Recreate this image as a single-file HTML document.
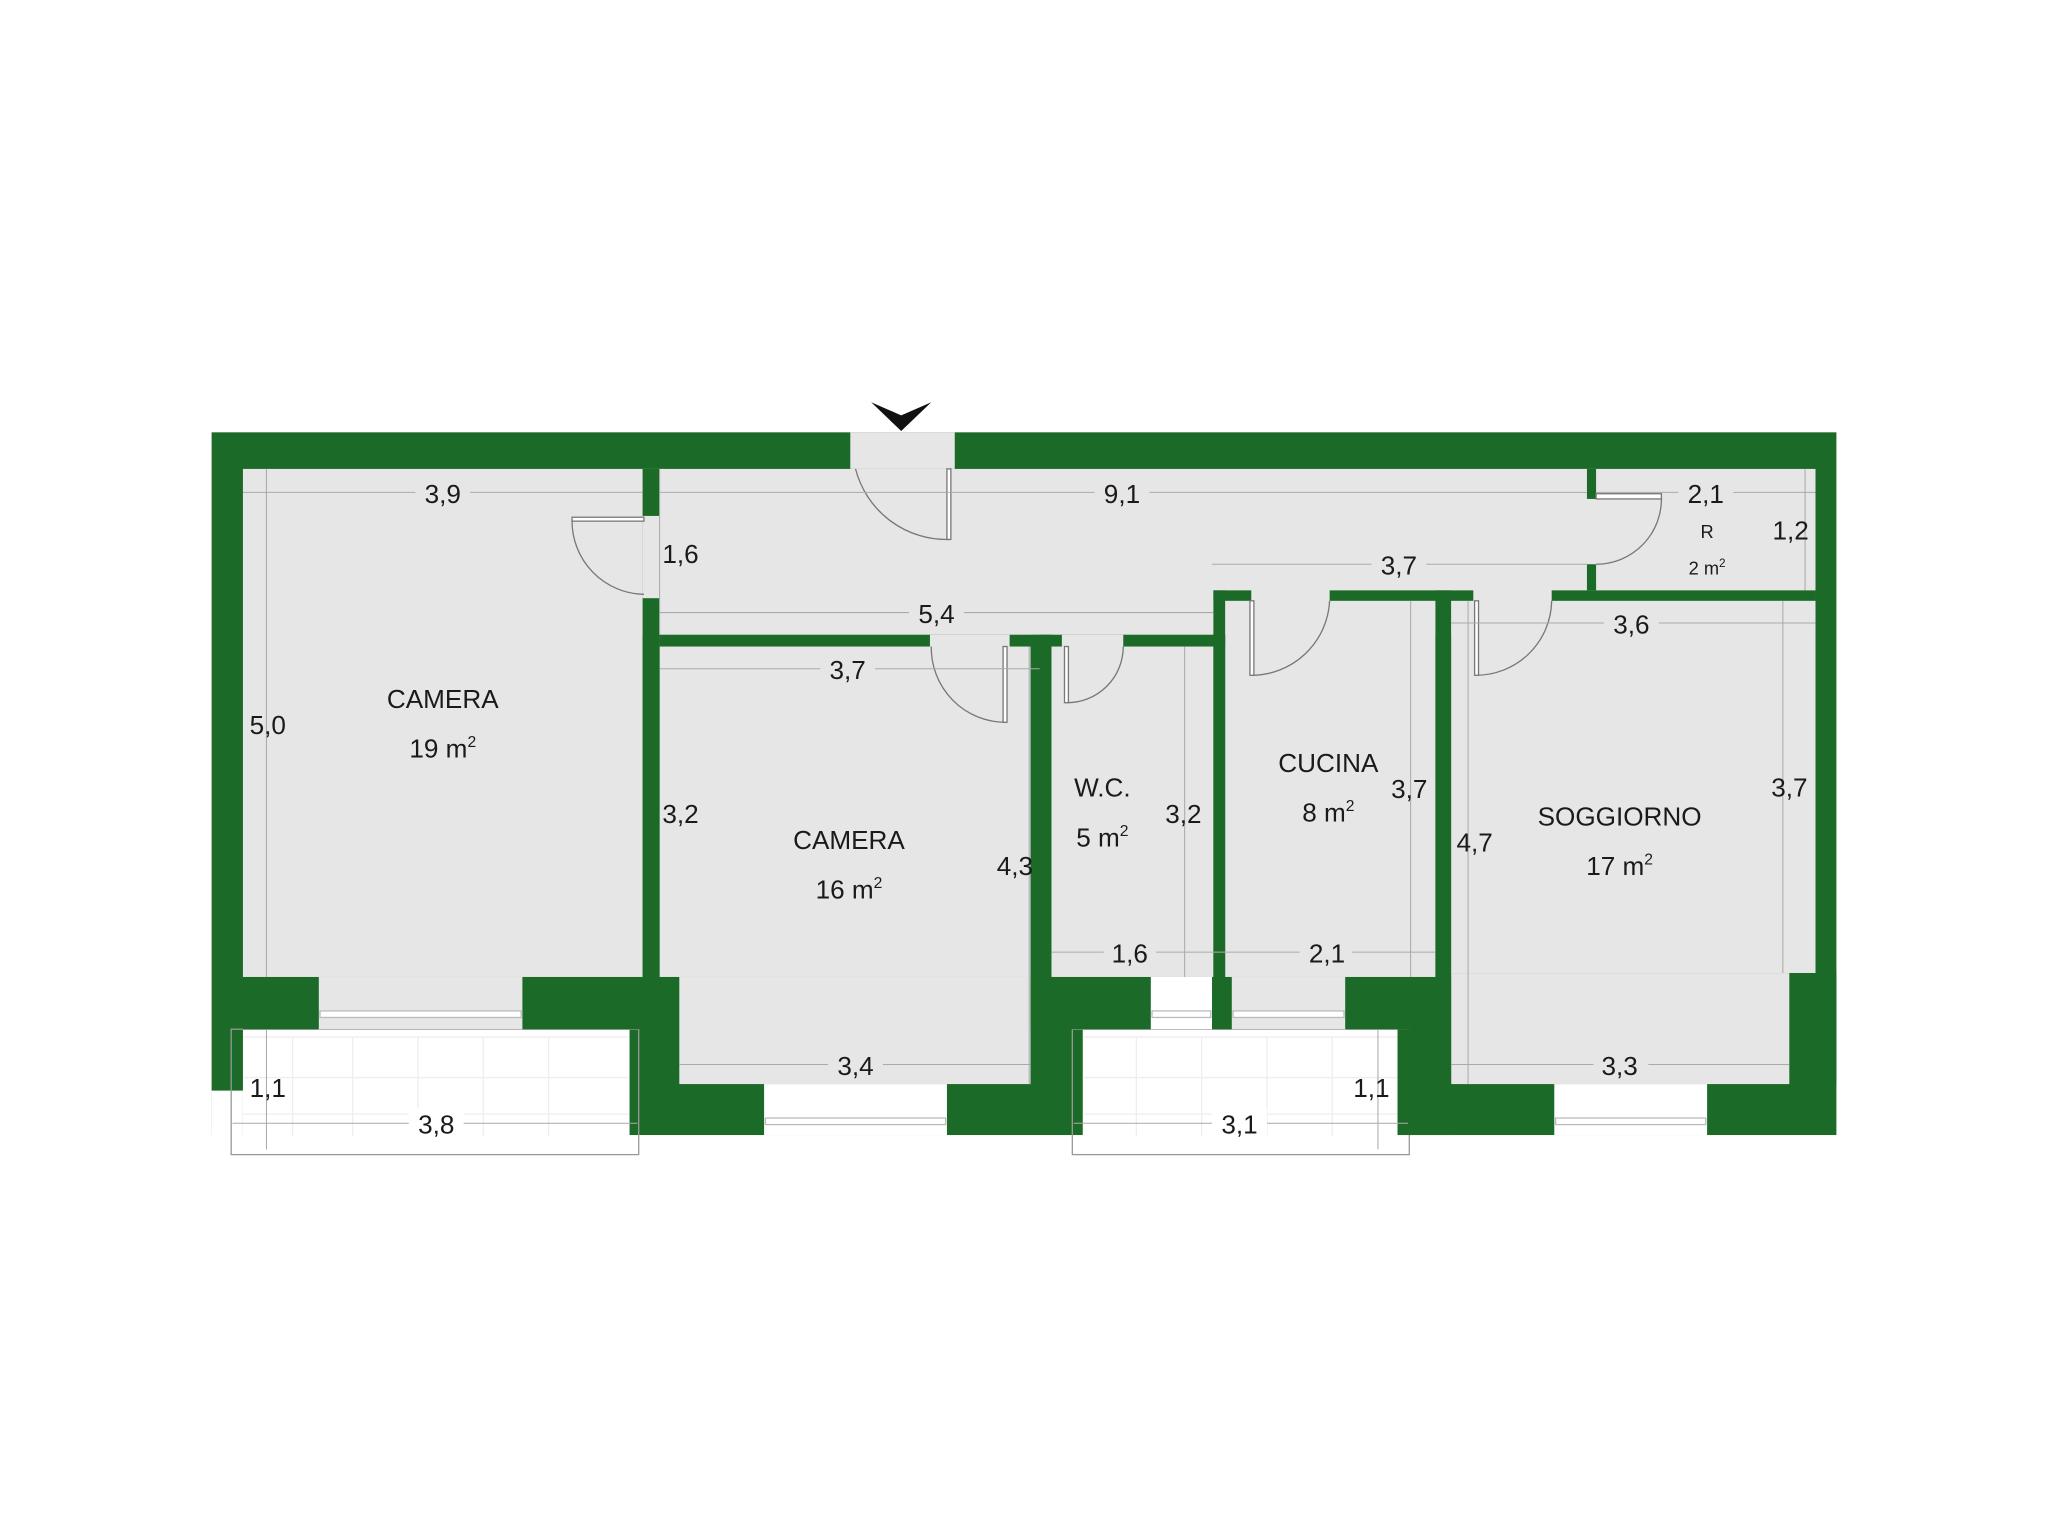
<!DOCTYPE html>
<html><head><meta charset="utf-8"><style>html,body{margin:0;padding:0;background:#fff}svg{display:block}</style></head><body>
<svg width="2048" height="1536" viewBox="0 0 1568 1176" xmlns="http://www.w3.org/2000/svg" font-family="Liberation Sans, sans-serif">
<rect width="1568" height="1176" fill="#fff"/>
<!-- green base -->
<rect x="162" y="331" width="1244" height="538" fill="#1c6a28"/>
<rect x="162" y="835" width="24" height="40" fill="#fff"/>
<!-- balconies -->
<rect x="186" y="788" width="296" height="82" fill="#fff"/>
<rect x="829" y="788" width="241" height="82" fill="#fff"/>
<g stroke="#eee" stroke-width="1">
<line x1="186" y1="794" x2="482" y2="794"/><line x1="186" y1="825" x2="482" y2="825"/><line x1="186" y1="853" x2="482" y2="853"/>
<line x1="829" y1="794" x2="1070" y2="794"/><line x1="829" y1="825" x2="1070" y2="825"/><line x1="829" y1="853" x2="1070" y2="853"/>
<line x1="224" y1="794" x2="224" y2="870"/><line x1="270" y1="794" x2="270" y2="870"/><line x1="320" y1="794" x2="320" y2="870"/><line x1="370" y1="794" x2="370" y2="870"/><line x1="420" y1="794" x2="420" y2="870"/>
<line x1="870" y1="794" x2="870" y2="870"/><line x1="920" y1="794" x2="920" y2="870"/><line x1="970" y1="794" x2="970" y2="870"/><line x1="1020" y1="794" x2="1020" y2="870"/>
</g>
<rect x="177" y="788" width="312" height="96" fill="none" stroke="#999" stroke-width="1"/>
<rect x="821" y="788" width="258" height="96" fill="none" stroke="#999" stroke-width="1"/>
<!-- floors -->
<g fill="#e6e6e6">
<rect x="186" y="359" width="306" height="389"/>
<rect x="244" y="748" width="156" height="40"/>
<rect x="492" y="359" width="898" height="127"/>
<rect x="505" y="486" width="284" height="262"/>
<rect x="520" y="748" width="269" height="82"/>
<rect x="805" y="486" width="124" height="262"/>
<rect x="938" y="452" width="161" height="296"/>
<rect x="943" y="748" width="87" height="40"/>
<rect x="1111" y="452" width="279" height="293"/>
<rect x="1111" y="745" width="259" height="85"/>
<rect x="651" y="331" width="80" height="28"/>
</g>
<!-- windows -->
<g fill="#fff" stroke="#bbb" stroke-width="1">
<rect x="585" y="830" width="140" height="39" stroke="none"/>
<rect x="1190" y="830" width="117" height="39" stroke="none"/>
<rect x="881" y="748" width="47" height="40" stroke="none"/>
<rect x="586" y="856" width="138" height="5"/>
<rect x="1191" y="856" width="115" height="5"/>
<rect x="245" y="774" width="154" height="5"/>
<rect x="944" y="774" width="85" height="5"/>
<rect x="882" y="774" width="45" height="5"/>
</g>
<!-- interior walls -->
<g fill="#1c6a28">
<rect x="492" y="359" width="13" height="36"/>
<rect x="492" y="458" width="13" height="290"/>
<rect x="505" y="486" width="207" height="9"/>
<rect x="773" y="486" width="40" height="9"/>
<rect x="860" y="486" width="78" height="9"/>
<rect x="796" y="486" width="9" height="262"/>
<rect x="789" y="748" width="92" height="40"/>
<rect x="928" y="748" width="15" height="40"/>
<rect x="929" y="452" width="9" height="296"/>
<rect x="929" y="452" width="29" height="8"/>
<rect x="1018" y="452" width="110" height="8"/>
<rect x="1099" y="452" width="12" height="378"/>
<rect x="1188" y="452" width="202" height="8"/>
<rect x="1215" y="359" width="7" height="23"/>
<rect x="1215" y="432" width="7" height="20"/>
<rect x="1030" y="748" width="81" height="40"/>
<rect x="1070" y="788" width="41" height="81"/>
<rect x="1370" y="745" width="36" height="85"/>
<rect x="505" y="748" width="15" height="82"/>
<rect x="400" y="748" width="105" height="40"/>
<rect x="186" y="748" width="58" height="40"/>
</g>
<!-- doors -->
<g fill="none" stroke="#777" stroke-width="1">
<path d="M438,398 A56,56 0 0 0 493,455"/><rect x="438" y="396" width="55" height="3" fill="#fff"/>
<path d="M655,359 A72,72 0 0 0 727,413"/><rect x="725" y="359" width="3" height="54" fill="#fff"/>
<path d="M713,495 A57,57 0 0 0 770,553"/><rect x="768" y="495" width="3" height="58" fill="#fff"/>
<path d="M860,495 A43,43 0 0 1 817,538"/><rect x="815" y="495" width="3" height="43" fill="#fff"/>
<path d="M1018,460 A60,60 0 0 1 958,517"/><rect x="957" y="460" width="3" height="57" fill="#fff"/>
<path d="M1188,460 A58,58 0 0 1 1130,517"/><rect x="1129" y="460" width="3" height="57" fill="#fff"/>
<path d="M1272,380 A50,50 0 0 1 1222,432"/><rect x="1222" y="378" width="50" height="4" fill="#fff"/>
</g>
<!-- entry arrow -->
<path d="M667,308 L690,330 L713,308 L690,318 Z" fill="#111"/>
<!-- dimension lines -->
<g stroke="#aaa" stroke-width="0.8" fill="none">
<line x1="186" y1="377" x2="492" y2="377"/>
<line x1="505" y1="377" x2="1215" y2="377"/>
<line x1="1222" y1="377" x2="1390" y2="377"/>
<line x1="204" y1="359" x2="204" y2="748"/>
<line x1="505" y1="359" x2="505" y2="486"/>
<line x1="505" y1="469" x2="929" y2="469"/>
<line x1="928" y1="432" x2="1215" y2="432"/>
<line x1="505" y1="512" x2="796" y2="512"/>
<line x1="1111" y1="477" x2="1390" y2="477"/>
<line x1="1382" y1="359" x2="1382" y2="452"/>
<line x1="1365" y1="460" x2="1365" y2="745"/>
<line x1="788" y1="495" x2="788" y2="830"/>
<line x1="907" y1="495" x2="907" y2="748"/>
<line x1="1080" y1="460" x2="1080" y2="748"/>
<line x1="1124" y1="460" x2="1124" y2="830"/>
<line x1="805" y1="729" x2="1099" y2="729"/>
<line x1="520" y1="815" x2="789" y2="815"/>
<line x1="1111" y1="815" x2="1370" y2="815"/>
<line x1="178" y1="860" x2="488" y2="860"/>
<line x1="822" y1="860" x2="1078" y2="860"/>
<line x1="204" y1="788" x2="204" y2="880"/>
<line x1="1055" y1="788" x2="1055" y2="880"/>
</g>
<!-- labels -->
<g fill="#1a1a1a" font-size="20" text-anchor="middle">
<g>
<rect x="318" y="365" width="42" height="22" fill="#e6e6e6"/>
<rect x="838" y="365" width="42" height="22" fill="#e6e6e6"/>
<rect x="1285" y="365" width="42" height="22" fill="#e6e6e6"/>
<rect x="696" y="458" width="42" height="22" fill="#e6e6e6"/>
<rect x="1050" y="421" width="42" height="22" fill="#e6e6e6"/>
<rect x="628" y="502" width="42" height="22" fill="#e6e6e6"/>
<rect x="1228" y="466" width="42" height="22" fill="#e6e6e6"/>
<rect x="845" y="718" width="40" height="22" fill="#e6e6e6"/>
<rect x="995" y="718" width="40" height="22" fill="#e6e6e6"/>
<rect x="634" y="804" width="42" height="22" fill="#e6e6e6"/>
<rect x="1220" y="804" width="42" height="22" fill="#e6e6e6"/>
<rect x="313" y="849" width="42" height="22" fill="#fff"/>
<rect x="928" y="849" width="42" height="22" fill="#fff"/>
</g>
<text x="339" y="385">3,9</text>
<text x="859" y="385">9,1</text>
<text x="1306" y="385">2,1</text>
<text x="1371" y="413">1,2</text>
<text x="521" y="431">1,6</text>
<text x="1071" y="440">3,7</text>
<text x="717" y="477">5,4</text>
<text x="1249" y="485">3,6</text>
<text x="649" y="520">3,7</text>
<text x="205" y="562">5,0</text>
<text x="521" y="630">3,2</text>
<text x="777" y="670">4,3</text>
<text x="906" y="630">3,2</text>
<text x="1079" y="611">3,7</text>
<text x="1129" y="652">4,7</text>
<text x="1370" y="610">3,7</text>
<text x="865" y="737">1,6</text>
<text x="1016" y="737">2,1</text>
<text x="655" y="823">3,4</text>
<text x="1240" y="823">3,3</text>
<text x="205" y="840">1,1</text>
<text x="1050" y="840">1,1</text>
<text x="334" y="868">3,8</text>
<text x="949" y="868">3,1</text>
<text x="339" y="542">CAMERA</text>
<text x="339" y="580">19 m<tspan font-size="12" dy="-8">2</tspan></text>
<text x="650" y="650">CAMERA</text>
<text x="650" y="688">16 m<tspan font-size="12" dy="-8">2</tspan></text>
<text x="844" y="610">W.C.</text>
<text x="844" y="648">5 m<tspan font-size="12" dy="-8">2</tspan></text>
<text x="1017" y="591">CUCINA</text>
<text x="1017" y="629">8 m<tspan font-size="12" dy="-8">2</tspan></text>
<text x="1240" y="632">SOGGIORNO</text>
<text x="1240" y="670">17 m<tspan font-size="12" dy="-8">2</tspan></text>
<text x="1307" y="412" font-size="14">R</text>
<text x="1307" y="440" font-size="14">2 m<tspan font-size="9" dy="-6">2</tspan></text>
</g>
</svg>
</body></html>
